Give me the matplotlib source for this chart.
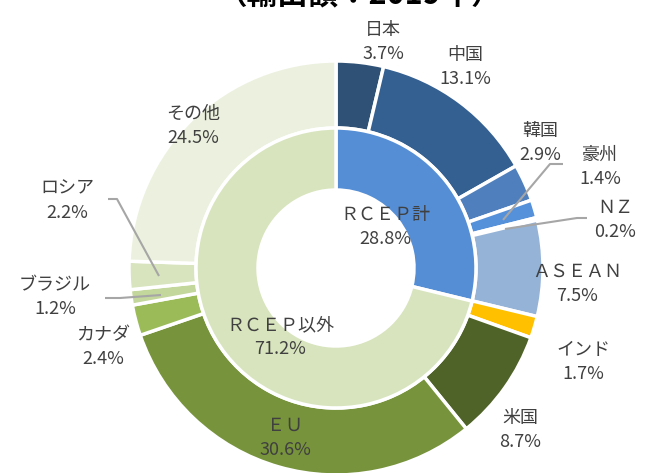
import matplotlib
matplotlib.use("Agg")
import matplotlib.pyplot as plt

plt.rcParams['font.family'] = ['Noto Sans CJK JP', 'DejaVu Sans']

# Data
outer_labels = ["日本", "中国", "韓国", "豪州", "ＮＺ", "ＡＳＥＡＮ", "インド", "米国",
                "ＥＵ", "カナダ", "ブラジル", "ロシア", "その他"]
outer_values = [3.7, 13.1, 2.9, 1.4, 0.2, 7.5, 1.7, 8.7, 30.6, 2.4, 1.2, 2.2, 24.5]
outer_colors = ["#2F5176", "#335F91", "#4F80BD", "#5590DA", "#6C9BD8", "#95B3D7", "#FFC000",
                "#4F6228", "#77933C", "#9BBB59", "#C3D69B", "#D7E4BD", "#EBF1DE"]

inner_labels = ["ＲＣＥＰ計", "ＲＣＥＰ以外"]
inner_values = [28.8, 71.2]
inner_colors = ["#558ED5", "#D7E4BD"]

title = "（輸出額：2019年）"

W, H = 654, 473
fig = plt.figure(figsize=(W / 100, H / 100), dpi=100)
ax = fig.add_axes([0, 0, 1, 1])

cx, cy = 336, H - 268
ax.pie(outer_values, radius=207, center=(cx, cy), startangle=90, counterclock=False,
       colors=outer_colors, wedgeprops=dict(width=67, edgecolor="white", linewidth=2.5))
ax.pie(inner_values, radius=140, center=(cx, cy), startangle=90, counterclock=False,
       colors=inner_colors, wedgeprops=dict(width=62, edgecolor="white", linewidth=2.5))

ax.set_xlim(0, W)
ax.set_ylim(0, H)
ax.set_aspect("equal")
ax.axis("off")

tc = "#404040"
fs = 13

def lab(name, val, x, y):
    ax.text(x, H - y, f"{name}\n{val:.1f}%", ha="center", va="center", fontsize=fs,
            color=tc, linespacing=1.45)

# label positions in pixel coords (top-left origin)
pos = {
    "日本": (383, 42), "中国": (465, 67), "韓国": (540, 143), "豪州": (600, 167),
    "ＮＺ": (615, 220), "ＡＳＥＡＮ": (577, 284), "インド": (583, 362), "米国": (520, 430),
    "ＥＵ": (285, 438), "カナダ": (103, 347), "ブラジル": (55, 297), "ロシア": (67, 201),
    "その他": (193, 126),
}
for n, v in zip(outer_labels, outer_values):
    x, y = pos[n]
    lab(n, v, x, y)

lab(inner_labels[0], inner_values[0], 385, 227)
lab(inner_labels[1], inner_values[1], 280, 337)

# leader lines
leaders = [
    [(563, 164), (550, 164), (503, 220)],
    [(587, 218), (577, 218), (505, 229)],
    [(105, 298), (120, 298), (161, 295)],
    [(108, 199), (117, 199), (159, 276)],
]
for pts in leaders:
    xs = [p[0] for p in pts]
    ys = [H - p[1] for p in pts]
    ax.plot(xs, ys, color="#A6A6A6", lw=1.5, solid_capstyle="butt")

ax.text(360, H - 3, title, ha="center", va="baseline", fontsize=22, fontweight="bold",
        color="black", clip_on=False)

fig.savefig("out.png", dpi=100)
